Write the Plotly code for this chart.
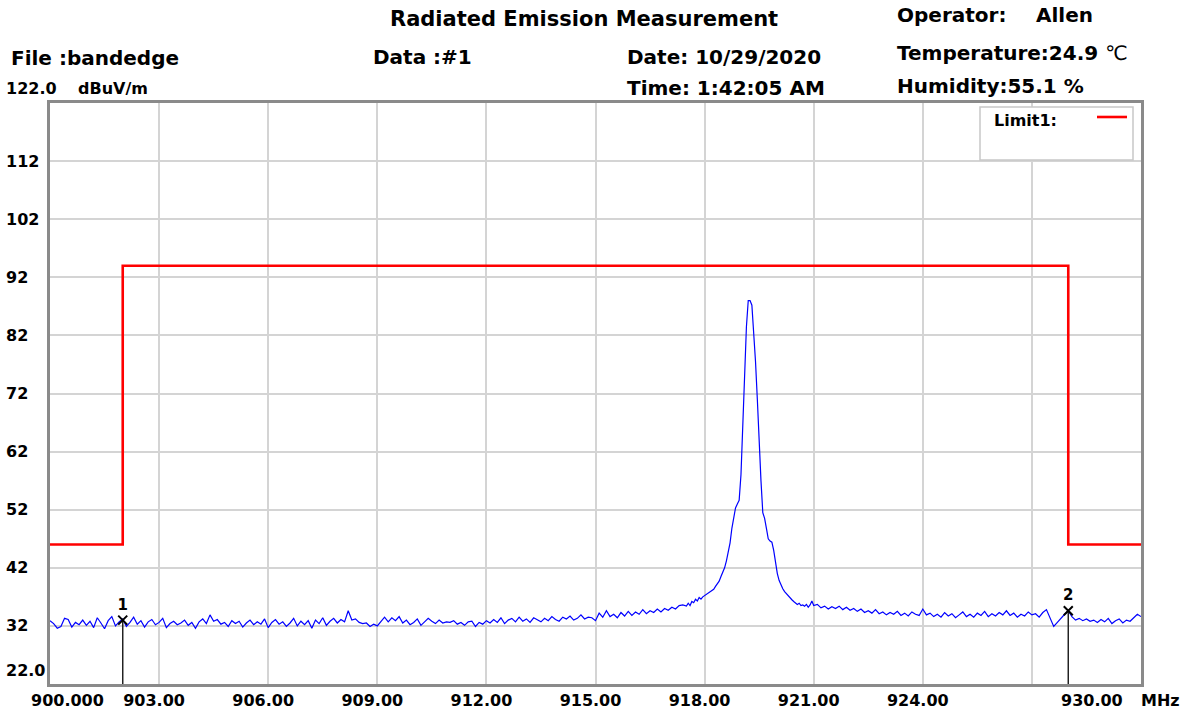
import numpy as np
import plotly.graph_objects as go

# ---------------- data ----------------
# measured trace, segment A: 900.0 .. 917.4 MHz, 0.1 MHz step
level_a = [
    32.9, 32.4, 31.6, 31.9, 33.3, 33.1, 31.8, 32.6, 32.2, 33.0,
    32.1, 32.8, 31.7, 33.4, 32.5, 31.5, 32.9, 33.6, 32.0, 32.7,
    33.2, 31.9, 32.6, 33.5, 32.3, 32.9, 31.8, 32.7, 33.1, 32.2,
    32.6, 33.3, 31.7, 32.4, 32.8, 32.2, 32.5, 33.0, 32.1, 32.6,
    31.6, 32.7, 33.2, 32.4, 33.9, 32.8, 33.1, 32.3, 32.6, 31.9,
    32.9, 32.4, 32.8, 31.8, 32.5, 33.0, 32.2, 32.7, 32.3, 33.2,
    31.7, 32.6, 33.1, 32.3, 32.7, 31.9, 32.5, 33.3, 32.0, 32.8,
    32.2, 32.9, 31.6, 33.0, 32.4, 33.4, 32.1, 32.8, 33.3, 32.5,
    33.1, 32.7, 34.6, 33.0, 33.2, 32.6, 32.4, 32.5, 31.9, 32.3,
    32.0, 32.8, 33.5, 32.7, 33.4, 32.9, 33.6, 32.5, 33.0, 32.2,
    32.6, 33.2, 32.1, 32.7, 33.3, 32.8, 32.4, 33.0, 32.5, 32.7,
    32.6, 32.9, 32.3, 32.6, 32.1, 32.7, 32.8, 31.9, 32.6, 32.3,
    32.9, 32.5, 33.1, 32.6, 33.4, 32.4, 33.0, 33.3, 32.7, 33.5,
    32.8, 33.2, 32.6, 33.4, 33.0, 32.7, 33.3, 32.9, 33.6, 33.1,
    32.8, 33.5, 33.2, 33.7, 33.0, 33.3, 33.9, 33.2, 33.5, 33.4,
    32.9, 34.2, 33.5, 34.6, 33.6, 34.0, 33.4, 34.3, 33.7, 34.5,
    33.8, 34.4, 34.0, 34.8, 34.1, 34.6, 34.3, 34.9, 34.4, 35.0,
    34.7, 35.2, 34.9, 35.5, 35.6,
]
# segment B (carrier): 917.50 .. 921.00 MHz, 0.05 MHz step
level_b = [
    35.4, 35.9, 35.5, 36.2, 36.0, 36.6, 36.3, 36.9, 36.6, 37.0,
    37.2, 37.4, 37.6, 37.9, 38.0, 38.3, 38.8, 39.2, 39.7, 40.5,
    41.2, 42.0, 43.2, 44.6, 46.3, 48.8, 51.0, 52.3, 53.0, 53.6,
    58.0, 66.5, 75.5, 83.5, 88.0, 88.0, 87.2, 82.5, 77.5, 71.0,
    62.5, 57.0, 51.5, 50.5, 48.8, 47.0, 46.6, 46.4, 45.0, 42.6,
    41.0, 39.8, 39.0, 38.4, 37.9, 37.5, 37.2, 36.9, 36.5, 36.2,
    36.0, 35.7, 35.9, 35.5, 35.6, 35.4, 35.7, 35.2, 35.6, 36.3,
    35.5,
]
# segment C: 921.1 .. 930.0 MHz, 0.1 MHz step
level_c = [
    35.7, 35.1, 35.4, 34.9, 35.3, 35.0, 35.4, 34.8, 35.2,
    34.7, 35.0, 34.5, 34.9, 34.3, 34.6, 34.2, 34.8, 34.1, 34.4,
    33.9, 34.3, 34.0, 34.5, 33.8, 34.2, 33.7, 34.4, 34.0, 33.8,
    34.9, 33.9, 34.2, 33.6, 34.0, 33.5, 34.3, 33.7, 34.1, 33.4,
    33.9, 34.4, 33.6, 34.0, 33.5, 34.2, 33.8, 34.5, 33.6, 34.1,
    33.7, 34.3, 33.9, 34.6, 33.8, 34.2, 33.5, 34.0, 33.7, 34.4,
    33.9, 34.1, 33.5, 34.3, 34.8, 33.2, 31.9, 32.6, 33.4, 34.0,
    34.6, 33.6, 33.0, 33.3, 32.9, 33.2, 32.8, 33.0, 32.6, 33.1,
    32.7, 33.3, 32.4, 32.9, 33.2, 32.5, 33.0, 32.8, 33.4, 34.0,
    33.6,
]
seg_a_start, seg_a_step = 900.0, 0.1
seg_b_start, seg_b_step = 917.5, 0.05
seg_c_start, seg_c_step = 921.1, 0.1

limit_freq = [900, 902, 902, 928, 928, 930]
limit_level = [46, 46, 94, 94, 46, 46]

marker_freq = [902.0, 928.0]
marker_level = [33.0, 34.6]
marker_label = ["1", "2"]

x_tickvals = [900, 903, 906, 909, 912, 915, 918, 921, 924, 927, 930]
x_ticktext = ["", "903.00", "906.00", "909.00", "912.00", "915.00",
              "918.00", "921.00", "924.00", "", ""]
y_tickvals = [32, 42, 52, 62, 72, 82, 92, 102, 112]
y_ticktext = ["32", "42", "52", "62", "72", "82", "92", "102", "112"]
y_min, y_max = 22, 122
x_min, x_max = 900, 930

# --------------- figure ---------------
W, H = 1194, 713
PL, PT, PR, PB = 50, 103, 1141, 684          # plot box in page pixels
L, T = PL, PT
PW, PH = PR - PL, PB - PT
R, B = W - L - PW, H - T - PH


def px(x):
    return (x - PL) / PW


def py(y):
    return (PB - y) / PH


freq = np.round(np.concatenate([
    seg_a_start + seg_a_step * np.arange(len(level_a)),
    seg_b_start + seg_b_step * np.arange(len(level_b)),
    seg_c_start + seg_c_step * np.arange(len(level_c)),
]), 3)
level = np.array(level_a + level_b + level_c)

fig = go.Figure()

fig.add_trace(go.Scatter(x=limit_freq, y=limit_level, mode="lines",
                         line=dict(color="#ff0000", width=2.6), hoverinfo="skip"))
fig.add_trace(go.Scatter(x=freq, y=level, mode="lines",
                         line=dict(color="#0000ff", width=1.2)))

for f, v in zip(marker_freq, marker_level):
    fig.add_trace(go.Scatter(x=[f, f], y=[y_min, v], mode="lines",
                             line=dict(color="#222222", width=1.5)))
fig.add_trace(go.Scatter(
    x=marker_freq, y=marker_level, mode="markers+text",
    text=marker_label, textposition="top center",
    textfont=dict(family="DejaVu Sans", size=15, color="#000", weight="bold"),
    marker=dict(symbol="x-thin", size=9, line=dict(color="#000", width=2))))

tick_font = dict(family="DejaVu Sans", size=16, color="#000", weight="bold")
head_font = dict(family="DejaVu Sans", size=20, color="#000", weight="bold")
title_font = dict(family="DejaVu Sans", size=21, color="#000", weight="bold")

ann = []
YX = -46
for v, t in zip(y_tickvals, y_ticktext):
    ann.append(dict(x=0, xref="paper", y=v, yref="y", text=t, showarrow=False,
                    xanchor="left", yanchor="middle", xshift=YX, font=tick_font))
ann.append(dict(x=0, xref="paper", y=y_min, yref="y", text="22.0", showarrow=False,
                xanchor="left", yanchor="middle", xshift=YX, yshift=14, font=tick_font))
ann.append(dict(x=0, xref="paper", y=y_max, yref="y", text="122.0", showarrow=False,
                xanchor="left", yanchor="middle", xshift=YX, yshift=15, font=tick_font))
ann.append(dict(x=0, xref="paper", y=y_max, yref="y", text="dBuV/m", showarrow=False,
                xanchor="left", yanchor="middle", xshift=26, yshift=15, font=tick_font))
ann.append(dict(x=x_min, xref="x", y=0, yref="paper", text="900.000", showarrow=False,
                xanchor="left", yanchor="middle", xshift=-21, yshift=-16, font=tick_font))
ann.append(dict(x=x_max, xref="x", y=0, yref="paper", text="930.00", showarrow=False,
                xanchor="right", yanchor="middle", xshift=-16, yshift=-16, font=tick_font))
ann.append(dict(x=x_max, xref="x", y=0, yref="paper", text="MHz", showarrow=False,
                xanchor="left", yanchor="middle", xshift=-2, yshift=-16, font=tick_font))

headers = [
    ("Radiated Emission Measurement", 584, 19, "center", title_font),
    ("Operator:", 895, 15, "left", head_font),
    ("Allen", 1034, 15, "left", head_font),
    ("File :bandedge", 9, 58, "left", head_font),
    ("Data :#1", 371, 57, "left", head_font),
    ("Date: 10/29/2020", 625, 57, "left", head_font),
    ("Time: 1:42:05 AM", 625, 88, "left", head_font),
    ("Temperature:24.9 <span style='font-weight:normal'>℃</span>", 895, 53, "left", head_font),
    ("Humidity:55.1 %", 895, 86, "left", head_font),
]
for t, x, y, xa, fnt in headers:
    ann.append(dict(x=px(x), y=py(y), xref="paper", yref="paper", text=t,
                    showarrow=False, xanchor=xa, yanchor="middle", font=fnt))

# legend box
ann.append(dict(x=px(992), y=py(121), xref="paper", yref="paper", text="Limit1:",
                showarrow=False, xanchor="left", yanchor="middle", font=tick_font))
shapes = [
    dict(type="rect", xref="paper", yref="paper", x0=px(980), x1=px(1133),
         y0=py(160), y1=py(107), line=dict(color="#c8c8c8", width=1.5),
         fillcolor="white", layer="above"),
    dict(type="line", xref="paper", yref="paper", x0=px(1097), x1=px(1127),
         y0=py(117), y1=py(117), line=dict(color="#ff0000", width=2.6), layer="above"),
]

fig.update_layout(
    width=W, height=H, margin=dict(l=L, r=R, t=T, b=B, pad=0, autoexpand=False),
    paper_bgcolor="white", plot_bgcolor="white", showlegend=False,
    annotations=ann, shapes=shapes,
    xaxis=dict(range=[x_min, x_max], tickvals=x_tickvals, ticktext=x_ticktext,
               showgrid=True, gridcolor="#d4d4d4", gridwidth=1.5, zeroline=False,
               showline=True, mirror=True, linecolor="#8a8a8a", linewidth=3,
               ticks="", tickfont=tick_font, ticklabelshift=-5, automargin=False),
    yaxis=dict(range=[y_min, y_max], tickvals=y_tickvals, showticklabels=False,
               showgrid=True, gridcolor="#d4d4d4", gridwidth=1.5, zeroline=False,
               showline=True, mirror=True, linecolor="#8a8a8a", linewidth=3,
               ticks="", automargin=False),
)

fig.write_html(
    "out.html",
    config={"displayModeBar": False},
    post_script="document.body.style.margin='0px';document.body.style.overflow='hidden';",
)
